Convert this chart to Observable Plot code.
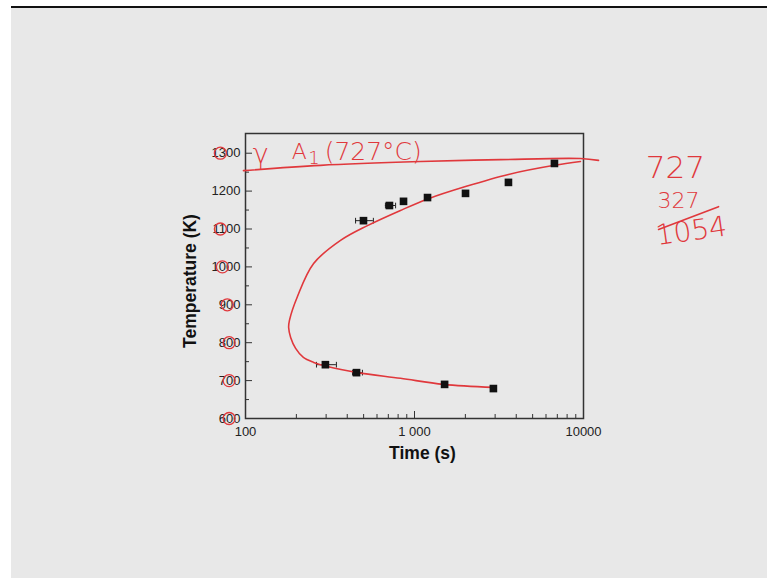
<!DOCTYPE html>
<html>
<head>
<meta charset="utf-8">
<script src="https://cdn.jsdelivr.net/npm/d3@7"></script>
<script src="https://cdn.jsdelivr.net/npm/@observablehq/plot@0.6"></script>
<style>
  html, body { margin: 0; padding: 0; background: #ffffff; width: 767px; height: 578px; overflow: hidden; }
  #bg { position: absolute; left: 11px; top: 6px; right: 0; bottom: 0; background: #e8e8e8; border-top: 2px solid #111; }
  #chart { position: absolute; left: 0; top: 0; }
  #chart svg { overflow: visible; }
</style>
</head>
<body>
<div id="bg"></div>
<div id="chart"></div>
<script>
// ---- data ----
const timeTicks = [100, 1000, 10000];
const timeTickLabels = ["100", "1 000", "10000"];
const timeMinorTicks = [200, 300, 400, 500, 600, 700, 800, 900, 2000, 3000, 4000, 5000, 6000, 7000, 8000, 9000];
const tempTicks = [600, 700, 800, 900, 1000, 1100, 1200, 1300];
const tempMinorTicks = [650, 750, 850, 950, 1050, 1150, 1250];

// measured points (s, K)
const pointTime = [297, 454, 1507, 2930, 499, 711, 861, 1194, 2004, 3597, 6730];
const pointTemp = [742, 721, 690, 679, 1122, 1162, 1173, 1183, 1194, 1223, 1273];
// horizontal error bars (s)
const errTemp = [742, 721, 1122, 1162];
const errLow = [263, 430, 448, 673];
const errHigh = [345, 492, 571, 773];

// hand-drawn C-curve (s, K)
const curveTime = [9594, 6730, 3597, 2004, 1210, 826, 527, 365, 253, 203, 182, 180, 185, 198, 220, 253, 305, 460, 826, 1486, 2930];
const curveTemp = [1278, 1268, 1244, 1212, 1180, 1149, 1109, 1070, 1009, 922, 859, 840, 814, 785, 761, 748, 737, 721, 706, 690, 682];

// hand-drawn A1 line (s, K)
const a1Time = [97.3, 278, 1085, 3228, 9594, 12270];
const a1Temp = [1254, 1268, 1278, 1283, 1286, 1281];

// handwritten annotations (positions in data units)
const noteText = ["γ", "A", "1", "(727°C)", "727", "327", "1054"];
const noteTime = [123, 208, 254, 570, 35000, 36500, 43500];
const noteTemp = [1297, 1303, 1288, 1304, 1262, 1174, 1094];
const noteSize = [27, 22, 18, 25, 31, 22, 28];
const noteAngle = [0, 0, 0, 0, 0, 0, -8];
const sumLineTime = [27800, 62960];
const sumLineTemp = [1099, 1159];
// scribble rings over tick labels
const ringTime = [71, 71, 73, 78, 80, 80, 80];
const ringTemp = [1300, 1100, 1000, 900, 800, 700, 600];

// ---- tables ----
const points = pointTime.map((t, i) => ({t, T: pointTemp[i]}));
const errs = errTemp.map((T, i) => ({T, lo: errLow[i], hi: errHigh[i]}));
const curve = curveTime.map((t, i) => ({t, T: curveTemp[i]}));
const a1 = a1Time.map((t, i) => ({t, T: a1Temp[i]}));
const notes = noteText.map((s, i) => ({s, t: noteTime[i], T: noteTemp[i], size: noteSize[i], a: noteAngle[i]}));
const sumLine = sumLineTime.map((t, i) => ({t, T: sumLineTemp[i]}));
const rings = ringTime.map((t, i) => ({t, T: ringTemp[i]}));

const red = "#e0383c";
const vbar = { draw(ctx, size) { const h = Math.sqrt(size) / 2; ctx.moveTo(0, -h); ctx.lineTo(0, h); } };

const plot = Plot.plot({
  width: 767,
  height: 578,
  marginLeft: 245,
  marginRight: 184,
  marginTop: 133,
  marginBottom: 160,
  style: { background: "transparent", fontFamily: "Liberation Sans, Arial, sans-serif", overflow: "visible" },
  x: { type: "log", domain: [100, 10000] },
  y: { domain: [600, 1352] },
  marks: [
    // minor ticks
    Plot.axisX({ ticks: timeMinorTicks, tickSize: -4, tickFormat: () => "", stroke: "#333", label: null }),
    Plot.axisY({ ticks: tempMinorTicks, tickSize: -4, tickFormat: () => "", stroke: "#333", label: null }),
    // major ticks
    Plot.axisX({ ticks: timeTicks, tickSize: -7, tickFormat: () => "", stroke: "#333", label: null }),
    Plot.axisY({ ticks: tempTicks, tickSize: -7, tickFormat: () => "", stroke: "#333", label: null }),
    // labels
    Plot.axisX({ ticks: timeTicks, tickSize: 0, tickPadding: 8, tickFormat: (d) => timeTickLabels[timeTicks.indexOf(d)], fontSize: 13, fill: "#222", label: null }),
    Plot.axisY({ ticks: tempTicks, tickSize: 0, tickPadding: 5, tickFormat: (d) => String(d), fontSize: 13, fill: "#222", label: null }),
    Plot.frame({ stroke: "#333", strokeWidth: 1.5 }),
    Plot.text(["Temperature (K)"], { frameAnchor: "left", textAnchor: "middle", lineAnchor: "middle", dx: -55, dy: 5, rotate: -90, fontSize: 17.5, fontWeight: "bold", fill: "#111" }),
    Plot.text(["Time (s)"], { frameAnchor: "bottom", textAnchor: "middle", lineAnchor: "middle", dy: 35, dx: 8, fontSize: 17.5, fontWeight: "bold", fill: "#111" }),
    // error bars
    Plot.ruleY(errs, { y: "T", x1: "lo", x2: "hi", stroke: "#222", strokeWidth: 1 }),
    Plot.dot(errs, { x: "lo", y: "T", symbol: vbar, r: 3.2, stroke: "#222", strokeWidth: 1 }),
    Plot.dot(errs, { x: "hi", y: "T", symbol: vbar, r: 3.2, stroke: "#222", strokeWidth: 1 }),
    // hand-drawn red curves
    Plot.line(curve, { x: "t", y: "T", curve: "catmull-rom", stroke: red, strokeWidth: 1.6 }),
    Plot.line(a1, { x: "t", y: "T", curve: "catmull-rom", stroke: red, strokeWidth: 1.6 }),
    // points
    Plot.dot(points, { x: "t", y: "T", symbol: "square", r: 4.3, fill: "#111" }),
    // annotations
    Plot.text(notes, { x: "t", y: "T", text: "s", fontSize: "size", rotate: "a", fill: red, fontFamily: "DejaVu Sans, sans-serif", fontWeight: 300 }),
    Plot.line(sumLine, { x: "t", y: "T", stroke: red, strokeWidth: 1.6 }),
    Plot.dot(rings, { x: "t", y: "T", r: 6, stroke: red, strokeWidth: 1.3, fill: "none" })
  ]
});
document.getElementById("chart").appendChild(plot);
</script>
</body>
</html>
